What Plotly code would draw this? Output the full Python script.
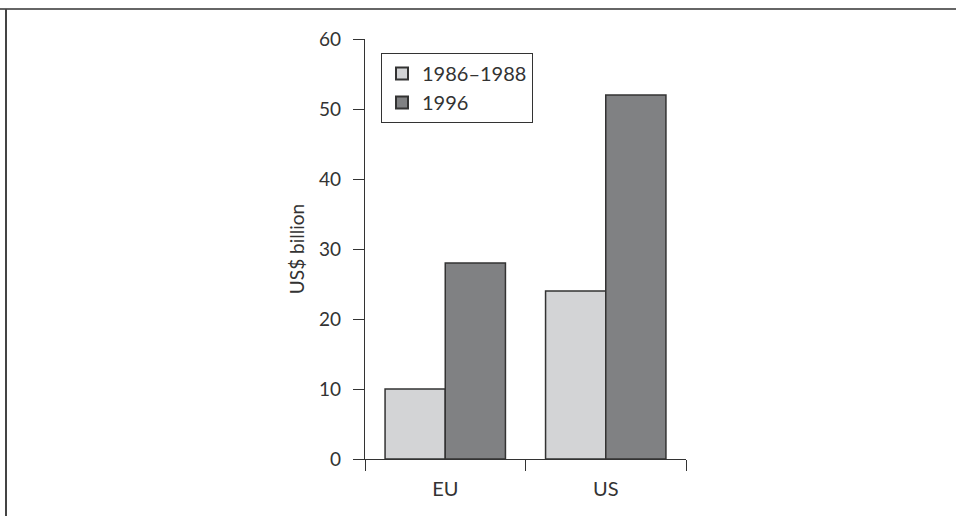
import plotly.graph_objects as go

categories = ["EU", "US"]
series_names = ["1986–1988", "1996"]
values_1986_1988 = [10, 24]
values_1996 = [28, 52]
y_ticks = [0, 10, 20, 30, 40, 50, 60]

W, H = 956, 516
L, R, T, B = 365, 270, 39, 57
pw, ph = W - L - R, H - T - B

def px_x(x):
    return (x - L) / pw

def px_y(y):
    return 1 - (y - T) / ph

fig = go.Figure()
fig.add_trace(go.Bar(x=categories, y=values_1986_1988, name=series_names[0],
                     marker=dict(color="#d3d4d6", line=dict(color="#333333", width=1.5))))
fig.add_trace(go.Bar(x=categories, y=values_1996, name=series_names[1],
                     marker=dict(color="#808183", line=dict(color="#333333", width=1.5))))

fig.update_layout(
    width=W, height=H,
    margin=dict(l=L, r=R, t=T, b=B, pad=0),
    paper_bgcolor="white", plot_bgcolor="white",
    barmode="group", bargap=0.25, bargroupgap=0,
    font=dict(family="Lato", size=19, color="#333333", weight=400),
    showlegend=True,
    legend=dict(x=px_x(381), y=px_y(53), xanchor="left", yanchor="top",
                bordercolor="#333333", borderwidth=1, bgcolor="white",
                font=dict(size=20), tracegroupgap=0, itemsizing="constant",
                itemwidth=30),
    xaxis=dict(showline=True, linecolor="#333333", linewidth=1.2,
               ticks="outside", ticklen=11, tickcolor="#333333", tickwidth=1.2,
               tickson="boundaries", showgrid=False, zeroline=False,
               ticklabelstandoff=12,
               tickfont=dict(size=20)),
    yaxis=dict(range=[0, 60], tickvals=y_ticks, showline=True, linecolor="#333333",
               linewidth=1.2, ticks="outside", ticklen=11, tickcolor="#333333",
               tickwidth=1.2, showgrid=False, zeroline=False,
               ticklabelstandoff=8,
               tickfont=dict(size=19),
               title=dict(text="US$ billion", font=dict(size=19), standoff=9)),
    shapes=[
        dict(type="line", xref="paper", yref="paper", x0=px_x(0), x1=px_x(W),
             y0=px_y(9), y1=px_y(9), line=dict(color="#666666", width=2)),
        dict(type="line", xref="paper", yref="paper", x0=px_x(6), x1=px_x(6),
             y0=px_y(9), y1=px_y(H), line=dict(color="#444444", width=2)),
    ],
)

fig.write_html("out.html", post_script="document.body.style.margin='0';",
               config={"displayModeBar": False})
